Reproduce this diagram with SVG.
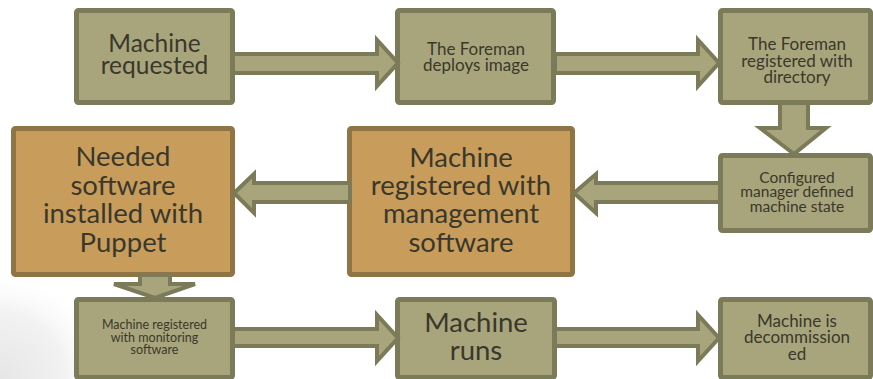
<svg xmlns="http://www.w3.org/2000/svg" width="873" height="379" viewBox="0 0 873 379">
<defs>
<style>
.ol{fill:#a8a57c;stroke:#7b7a59;stroke-width:5}
.or{fill:#c89d5c;stroke:#8f7445;stroke-width:5}
.ar{fill:#a8a57c;stroke:#7b7a59;stroke-width:4;stroke-linejoin:miter}
text{font-family:Lato,"Liberation Sans",sans-serif;fill:#3a382b;text-anchor:middle}
</style>
<radialGradient id="shade" cx="0" cy="379" r="110" gradientUnits="userSpaceOnUse">
<stop offset="0" stop-color="#e6e6e6"/>
<stop offset="0.6" stop-color="#f2f2f2"/>
<stop offset="1" stop-color="#ffffff" stop-opacity="0"/>
</radialGradient>
</defs>
<rect width="873" height="379" fill="#ffffff"/>
<rect x="0" y="260" width="120" height="119" fill="url(#shade)"/>

<g id="n1"><rect class="ol" x="76.5" y="10.5" width="156" height="92" rx="2"/>
<text font-size="24.5"><tspan x="154.5" y="52">Machine</tspan><tspan x="154.5" y="74">requested</tspan></text></g>

<g id="n2"><rect class="ol" x="397.5" y="10.5" width="156" height="92" rx="2"/>
<text font-size="17"><tspan x="476" y="54.5">The Foreman</tspan><tspan x="476" y="71">deploys image</tspan></text></g>

<g id="n3"><rect class="ol" x="720.5" y="10.5" width="150" height="92" rx="2"/>
<text font-size="17"><tspan x="797" y="50">The Foreman</tspan><tspan x="797" y="66.5">registered with</tspan><tspan x="797" y="83">directory</tspan></text></g>

<g id="n4"><rect class="ol" x="720.5" y="155.5" width="150" height="75" rx="2"/>
<text font-size="15.5"><tspan x="797" y="182.5">Configured</tspan><tspan x="797" y="197">manager defined</tspan><tspan x="797" y="211.5">machine state</tspan></text></g>

<g id="n5"><rect class="or" x="349.5" y="128.5" width="223" height="146" rx="2"/>
<text font-size="27.5"><tspan x="461" y="166.5">Machine</tspan><tspan x="461" y="195">registered with</tspan><tspan x="461" y="223">management</tspan><tspan x="461" y="251.5">software</tspan></text></g>

<g id="n6"><rect class="or" x="13.5" y="128.5" width="219" height="146" rx="2"/>
<text font-size="27.5"><tspan x="123" y="166">Needed</tspan><tspan x="123" y="194.5">software</tspan><tspan x="123" y="223">installed with</tspan><tspan x="123" y="251.5">Puppet</tspan></text></g>

<g id="n7"><rect class="ol" x="76.5" y="299.5" width="156" height="78" rx="2"/>
<text font-size="12.5"><tspan x="154.5" y="329">Machine registered</tspan><tspan x="154.5" y="341.5">with monitoring</tspan><tspan x="154.5" y="354">software</tspan></text></g>

<g id="n8"><rect class="ol" x="397.5" y="299.5" width="157" height="78" rx="2"/>
<text font-size="27.5"><tspan x="476" y="331.5">Machine</tspan><tspan x="476" y="360">runs</tspan></text></g>

<g id="n9"><rect class="ol" x="720.5" y="299.5" width="150" height="78" rx="2"/>
<text font-size="17"><tspan x="797" y="326.5">Machine is</tspan><tspan x="797" y="343">decommission</tspan><tspan x="797" y="360">ed</tspan></text></g>

<g id="connectors">
<polygon class="ar" points="233,54 377,54 377,40 398,63 377,86 377,73 233,73"/>
<polygon class="ar" points="555,54 698,54 698,40 719,63 698,86 698,73 555,73"/>
<polygon class="ar" points="780,103 808,103 808,128 826,128 794,154 760,128 780,128"/>
<polygon class="ar" points="720,183 596,183 596,174 574,193 596,213 596,202 720,202"/>
<polygon class="ar" points="350,183 254,183 254,174 234,193 254,213 254,202 350,202"/>
<polygon class="ar" points="140,275 170,275 170,284 195,284 155,298 114,284 140,284"/>
<polygon class="ar" points="233,329 377,329 377,315 398,338 377,361 377,346 233,346"/>
<polygon class="ar" points="555,329 698,329 698,315 719,338 698,361 698,346 555,346"/>
</g>
</svg>
